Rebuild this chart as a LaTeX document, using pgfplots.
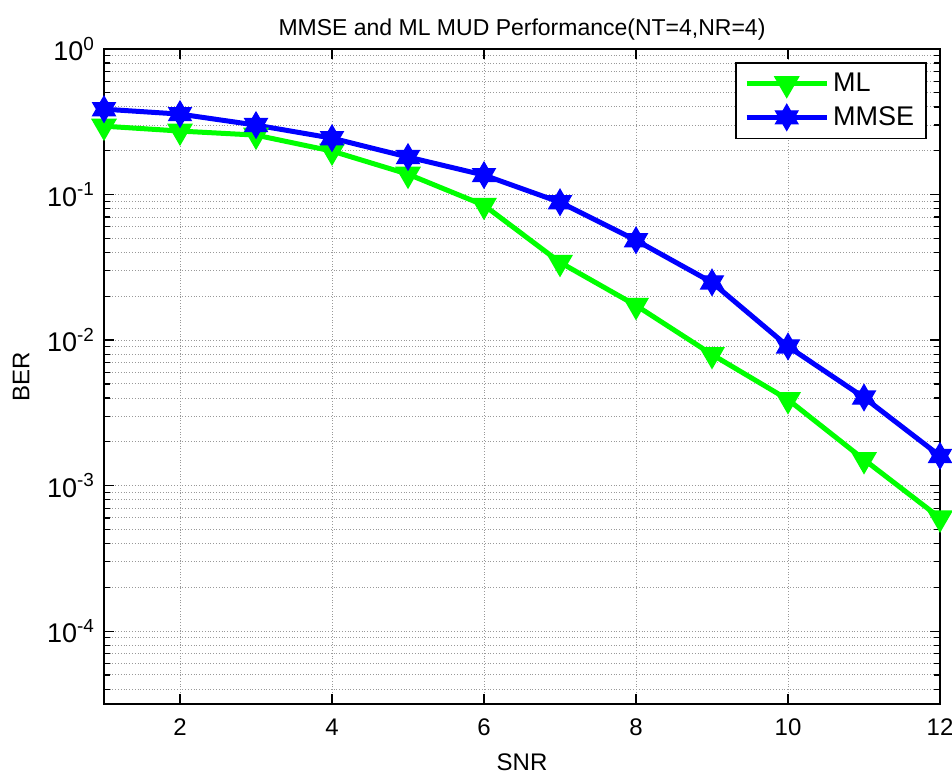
\documentclass[border=0pt]{standalone}
\usepackage{fontspec}
\setmainfont{Liberation Sans}
\usepackage{pgfplots}
\pgfplotsset{compat=1.18}

\definecolor{mlgreen}{RGB}{0,255,0}
\definecolor{mmseblue}{RGB}{0,0,255}

% six-pointed star, like MATLAB's hexagram marker
\pgfdeclareplotmark{hexagram}{%
  \pgfpathmoveto{\pgfqpointpolar{90}{\pgfplotmarksize}}%
  \pgfpathlineto{\pgfqpointpolar{210}{\pgfplotmarksize}}%
  \pgfpathlineto{\pgfqpointpolar{330}{\pgfplotmarksize}}%
  \pgfpathclose
  \pgfpathmoveto{\pgfqpointpolar{270}{\pgfplotmarksize}}%
  \pgfpathlineto{\pgfqpointpolar{30}{\pgfplotmarksize}}%
  \pgfpathlineto{\pgfqpointpolar{150}{\pgfplotmarksize}}%
  \pgfpathclose
  \pgfusepathqfillstroke
}

\begin{document}
\begin{tikzpicture}
\useasboundingbox (0,0) rectangle (476pt,387pt);
\begin{axis}[
    at={(52pt,35pt)}, anchor=south west,
    scale only axis,
    width=418pt, height=327.5pt,
    ymode=log,
    xmin=1, xmax=12,
    ymin=3.16e-5, ymax=1,
    xtick={2,4,6,8,10,12},
    xticklabels={2,4,6,8,10,12},
    ytick={1e-4,1e-3,1e-2,1e-1,1},
    yticklabels={10\textsuperscript{-4},10\textsuperscript{-3},10\textsuperscript{-2},10\textsuperscript{-1},10\textsuperscript{0}},
    minor ytick={4e-5,5e-5,6e-5,7e-5,8e-5,9e-5,
      2e-4,3e-4,4e-4,5e-4,6e-4,7e-4,8e-4,9e-4,
      2e-3,3e-3,4e-3,5e-3,6e-3,7e-3,8e-3,9e-3,
      2e-2,3e-2,4e-2,5e-2,6e-2,7e-2,8e-2,9e-2,
      2e-1,3e-1,4e-1,5e-1,6e-1,7e-1,8e-1,9e-1},
    font=\fontsize{11.5}{13}\selectfont,
    yticklabel style={font=\fontsize{13.5}{15}\selectfont, xshift=-1pt},
    xticklabel style={font=\fontsize{12}{14}\selectfont, yshift=-4pt},
    title={MMSE and ML MUD Performance(NT=4,NR=4)},
    title style={yshift=-5pt, font=\fontsize{11.5}{13}\selectfont},
    xlabel={SNR}, ylabel={BER},
    xlabel style={yshift=-2pt, font=\fontsize{12}{14}\selectfont},
    ylabel style={yshift=2pt, font=\fontsize{12}{14}\selectfont},
    grid=both,
    major grid style={densely dotted, gray!80, line width=0.5pt},
    minor grid style={densely dotted, gray!80, line width=0.5pt},
    tick align=inside,
    xtick pos=both, ytick pos=both,
    major tick length=5pt, minor tick length=3pt,
    axis line style={line width=0.8pt},
    tick style={black, line width=0.6pt},
    legend style={at={(0.9845,0.98)}, anchor=north east,
        font=\fontsize{13.5}{15}\selectfont,
        draw=black, line width=0.8pt, inner xsep=4pt, inner ysep=3pt,
        row sep=2pt, fill=white},
    legend cell align=left,
    legend image code/.code={%
      \draw[mark repeat=2, mark phase=2, #1]
        plot coordinates {(0pt,0pt) (20pt,0pt) (40pt,0pt)};},
]
\addplot[color=mlgreen, line width=2.5pt, mark=triangle*, mark size=6.5pt,
    mark options={rotate=180, fill=mlgreen, line width=1pt}]
coordinates {
(1,0.295)(2,0.273)(3,0.256)(4,0.199)(5,0.138)(6,0.0844)
(7,0.0342)(8,0.0173)(9,0.00796)(10,0.0039)(11,0.00151)(12,0.0006)
};
\addlegendentry{ML}
\addplot[color=mmseblue, line width=2.5pt, mark=hexagram, mark size=6.5pt,
    mark options={fill=mmseblue, line width=0.6pt}]
coordinates {
(1,0.386)(2,0.357)(3,0.300)(4,0.244)(5,0.181)(6,0.136)
(7,0.0885)(8,0.0485)(9,0.0249)(10,0.00904)(11,0.00403)(12,0.0016)
};
\addlegendentry{MMSE}
\end{axis}
\end{tikzpicture}
\end{document}
